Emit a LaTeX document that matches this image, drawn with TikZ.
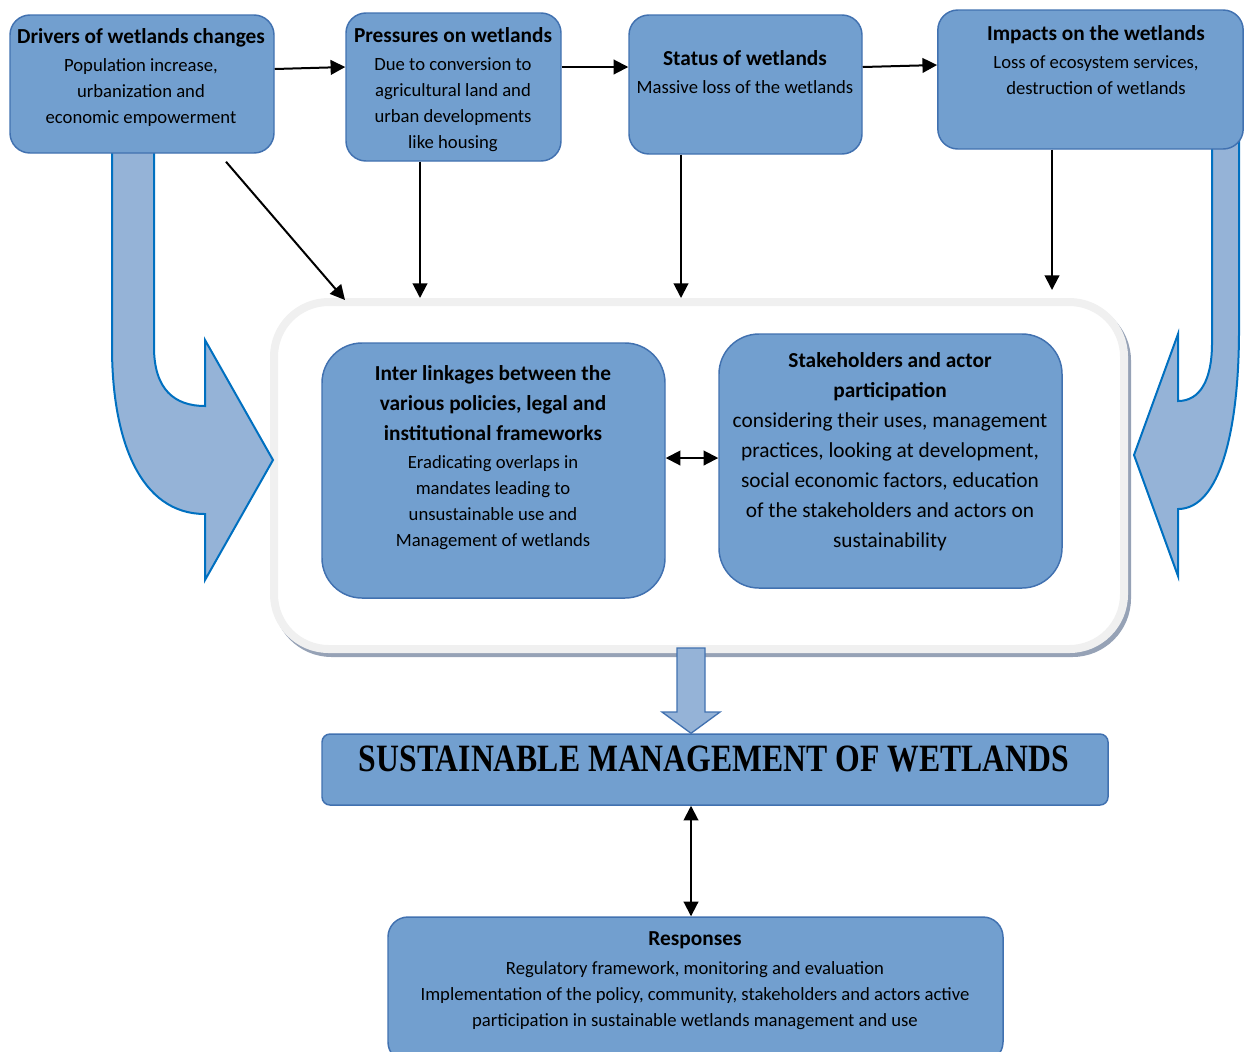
\documentclass[tikz,border=0pt]{standalone}
\usepackage{fontspec}
\usepackage{graphicx}
\setmainfont{Carlito}
\newfontfamily\timesfont{Liberation Serif}
\usetikzlibrary{arrows.meta}

\definecolor{boxfill}{RGB}{114,159,207}
\definecolor{boxline}{RGB}{65,113,176}
\definecolor{bendfill}{RGB}{149,179,215}
\definecolor{bendline}{RGB}{0,112,192}
\definecolor{framegray}{RGB}{240,240,240}
\definecolor{frameshade}{RGB}{150,162,182}

\tikzstyle{box}=[shape=rectangle,
	       fill=boxfill,
	       draw=boxline,
	       line width=1.1pt,
	       rounded corners=15pt]
\tikzstyle{txt}=[align=center, inner sep=0pt,
	       font=\fontsize{14}{19.5}\selectfont]
\tikzstyle{arr}=[-{Triangle[length=11pt,width=11pt]}, line width=1.5pt]
\tikzstyle{darr}=[{Triangle[length=11pt,width=11pt]}-{Triangle[length=11pt,width=11pt]}, line width=1.5pt]
\tikzstyle{curvearrow}=[fill=bendfill, draw=bendline, line width=1.5pt]

\newcommand{\boxtitle}[1]{{\fontsize{16}{19.5}\selectfont\bfseries #1}}

\begin{document}
\begin{tikzpicture}[x=0.75pt, y=-0.75pt]
\useasboundingbox (0,0) rectangle (1244,1051);
\clip (0,0) rectangle (1244,1051);

% grey frame round the two middle boxes, with its shadow
\node[draw=frameshade, line width=6pt, rounded corners=41pt,
      minimum width=637.5pt, minimum height=260.25pt] (shade) at (702,479.5) {};
\node[draw=framegray, fill=white, line width=6pt, rounded corners=41pt,
      minimum width=637.5pt, minimum height=260.25pt] (frame) at (699,475.5) {};

% big curved arrows on both sides
\draw[curvearrow] (112,140) -- (154,140) -- (154,347)
  .. controls (154,390) and (175,406) .. (205,406) -- (205,340) -- (273,460)
  -- (205,580) -- (205,514) .. controls (140,514) and (112,440) .. (112,347) -- cycle;
\draw[curvearrow] (1239,140) -- (1239,330)
  .. controls (1239,430) and (1220,509) .. (1178,509) -- (1178,576) -- (1134,455)
  -- (1178,334) -- (1178,401) .. controls (1200,401) and (1212,380) .. (1212,343)
  -- (1212,140) -- cycle;

% top row
\node[box, minimum width=198pt, minimum height=103.5pt] (drivers) at (142,84) {};
\node[box, minimum width=161.25pt, minimum height=111pt] (pressures) at (453.5,87) {};
\node[box, minimum width=174.75pt, minimum height=104.25pt] (status) at (745.5,84.5) {};
\node[box, minimum width=229pt, minimum height=104.25pt] (impacts) at (1090.5,79.5) {};

\node[txt] (drivers-t) at (141,78) {\boxtitle{Drivers of wetlands changes}\\[1.5pt]
  Population increase,\\ urbanization and\\ economic empowerment};
\node[txt] (pressures-t) at (453,89.5) {\boxtitle{Pressures on wetlands}\\[2pt]
  Due to conversion to\\ agricultural land and\\ urban developments\\ like housing};
\node[txt] (status-t) at (745,72) {\boxtitle{Status of wetlands}\\[1.5pt]
  Massive loss of the wetlands};
\node[txt] (impacts-t) at (1096,60) {\boxtitle{Impacts on the wetlands}\\[1.5pt]
  Loss of ecosystem services,\\ destruction of wetlands};

% middle boxes
\node[box, rounded corners=30pt, minimum width=257.25pt, minimum height=191.25pt] (inter) at (493.5,470.5) {};
\node[box, rounded corners=30pt, minimum width=257.25pt, minimum height=190.5pt] (stake) at (890.5,461) {};

\node[txt] (inter-t) at (493,458) {\boxtitle{Inter linkages between the}\\[3pt]
  \boxtitle{various policies, legal and}\\[3pt]
  \boxtitle{institutional frameworks}\\[1.5pt]
  Eradicating overlaps in\\ mandates leading to\\ unsustainable use and\\ Management of wetlands};
\node[txt, font=\fontsize{16}{22.5}\selectfont] (stake-t) at (890,452) {\textbf{Stakeholders and actor}\\
  \textbf{participation}\\ considering their uses, management\\ practices, looking at development,\\
  social economic factors, education\\ of the stakeholders and actors on\\ sustainability};

% bottom boxes
\node[box, rounded corners=6pt, minimum width=589.5pt, minimum height=53.25pt] (sust) at (715,769.5) {};
\node[txt, font=\timesfont\bfseries\fontsize{29}{30}\selectfont] (sust-t) at (714,759)
  {\scalebox{0.82}[1]{SUSTAINABLE MANAGEMENT OF WETLANDS}};
\node[box, minimum width=461.25pt, minimum height=108.75pt] (resp) at (695.5,989.5) {};
\node[txt] (resp-t) at (695,980.5) {\boxtitle{Responses}\\[2pt]
  Regulatory framework, monitoring and evaluation\\
  Implementation of the policy, community, stakeholders and actors active\\
  participation in sustainable wetlands management and use};

% connectors
\coordinate (xp) at (420,0);
\coordinate (xs) at (681,0);
\coordinate (xi) at (1052,0);
\coordinate (xm) at (691,0);
\coordinate (impend) at (1052,290);

\draw[arr] ([shift={(0,-15)}]drivers.east) -- ([shift={(0,-20)}]pressures.west);
\draw[arr] ([shift={(0,-20)}]pressures.east) -- ([shift={(0,-17.5)}]status.west);
\draw[arr] ([shift={(0,-17.5)}]status.east) -- ([shift={(0,-14.5)}]impacts.west);
\draw[arr] ([shift={(84,8)}]drivers.south) -- ([shift={(75,2)}]frame.north west);
\draw[arr] (pressures.south -| xp) -- (frame.north -| xp);
\draw[arr] (status.south -| xs) -- (frame.north -| xs);
\draw[arr] (impacts.south -| xi) -- (impend);
\draw[darr] ([shift={(0,-12.5)}]inter.east) -- ([shift={(0,-3)}]stake.west);
\draw[darr] (sust.south -| xm) -- (resp.north -| xm);

% block arrow from the frame down to the main box
\draw[curvearrow, draw=boxline, line width=1pt] (677,648) -- (705,648) -- (705,712) -- (720,712)
  -- (sust.north -| xm) -- (662,712) -- (677,712) -- cycle;

\end{tikzpicture}
\end{document}
